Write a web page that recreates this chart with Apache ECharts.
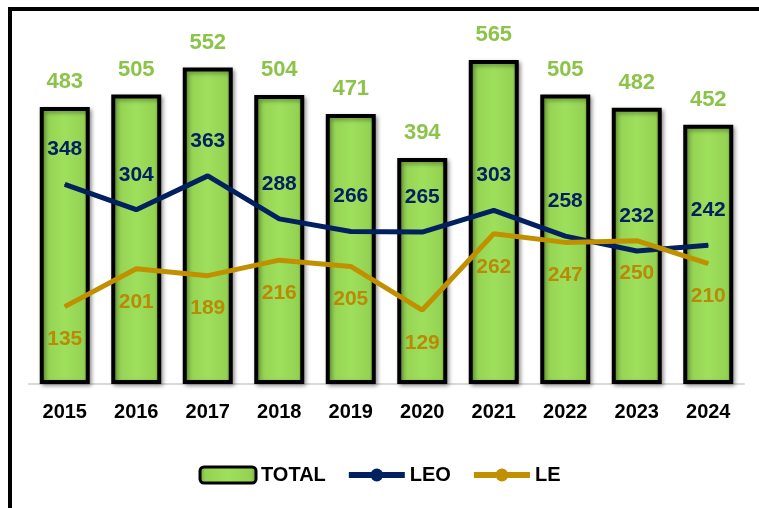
<!DOCTYPE html>
<html>
<head>
<meta charset="utf-8">
<script src="https://cdn.jsdelivr.net/npm/echarts@6/dist/echarts.min.js"></script>
<style>
    html, body { margin: 0; padding: 0; background: #fff; }
    #frame {
        position: absolute; left: 8px; top: 7px; width: 751px; height: 501px;
        border-top: 4px solid #000; border-left: 4px solid #000; box-sizing: border-box;
    }
    #chart_div { position: absolute; left: 0; top: 0; width: 759px; height: 508px; }
</style>
</head>
<body>
<div id="frame"></div>
<div id="chart_div"></div>
<script>
    "use strict";
    var years = ['2015', '2016', '2017', '2018', '2019', '2020', '2021', '2022', '2023', '2024'];
    var total = [483, 505, 552, 504, 471, 394, 565, 505, 482, 452];
    var leo = [348, 304, 363, 288, 266, 265, 303, 258, 232, 242];
    var le = [135, 201, 189, 216, 205, 129, 262, 247, 250, 210];

    var fontName = "'Liberation Sans Narrow', 'Arial Narrow', 'Liberation Sans', sans-serif";

    var myChart = echarts.init(document.getElementById('chart_div'));
    var option = {
        animation: false,
        grid: {
            left: 29,
            right: 15,
            top: 40,
            bottom: 124
        },
        legend: {
            bottom: 18,
            left: 'center',
            itemWidth: 56,
            itemHeight: 16,
            itemGap: 20,
            textStyle: {
                fontFamily: fontName,
                fontWeight: 'bold',
                fontSize: 20,
                color: '#000'
            },
            data: [
                { name: 'TOTAL', itemStyle: { borderColor: '#000', borderWidth: 3 } },
                { name: 'LEO', lineStyle: { width: 6 } },
                { name: 'LE', lineStyle: { width: 6 } }
            ]
        },
        xAxis: {
            type: 'category',
            data: years,
            axisTick: { show: false },
            axisLine: { lineStyle: { color: '#d9d9d9', width: 2 } },
            axisLabel: {
                margin: 18,
                fontFamily: fontName,
                fontWeight: 'bold',
                fontSize: 20,
                color: '#000'
            }
        },
        yAxis: {
            type: 'value',
            min: 0,
            max: 600,
            show: false,
            splitLine: { show: false }
        },
        series: [
            {
                name: 'TOTAL',
                type: 'bar',
                barWidth: 50,
                data: total,
                itemStyle: {
                    color: new echarts.graphic.LinearGradient(0, 0, 1, 0, [
                        { offset: 0, color: '#6c9c38' },
                        { offset: 0.12, color: '#94d352' },
                        { offset: 0.5, color: '#9edf5c' },
                        { offset: 0.88, color: '#94d352' },
                        { offset: 1, color: '#6c9c38' }
                    ]),
                    borderColor: '#000',
                    borderWidth: 4,
                    shadowBlur: 4,
                    shadowOffsetX: 2,
                    shadowOffsetY: 2,
                    shadowColor: 'rgba(0, 0, 0, 0.35)'
                },
                label: {
                    show: true,
                    position: 'top',
                    distance: 14,
                    fontFamily: fontName,
                    fontWeight: 'bold',
                    fontSize: 22,
                    color: '#8cc34a'
                }
            },
            {
                name: 'LEO',
                type: 'line',
                data: leo,
                symbol: 'circle',
                symbolSize: 1,
                z: 5,
                lineStyle: { color: '#002060', width: 5 },
                itemStyle: { color: '#002060' },
                label: {
                    show: true,
                    position: 'top',
                    distance: 24,
                    fontFamily: fontName,
                    fontWeight: 'bold',
                    fontSize: 21,
                    color: '#002060'
                }
            },
            {
                name: 'LE',
                type: 'line',
                data: le,
                symbol: 'circle',
                symbolSize: 1,
                z: 5,
                lineStyle: { color: '#c09000', width: 5 },
                itemStyle: { color: '#c09000' },
                label: {
                    show: true,
                    position: 'bottom',
                    distance: 22,
                    fontFamily: fontName,
                    fontWeight: 'bold',
                    fontSize: 21,
                    color: '#b88a05'
                }
            }
        ]
    };
    myChart.setOption(option);
</script>
</body>
</html>
